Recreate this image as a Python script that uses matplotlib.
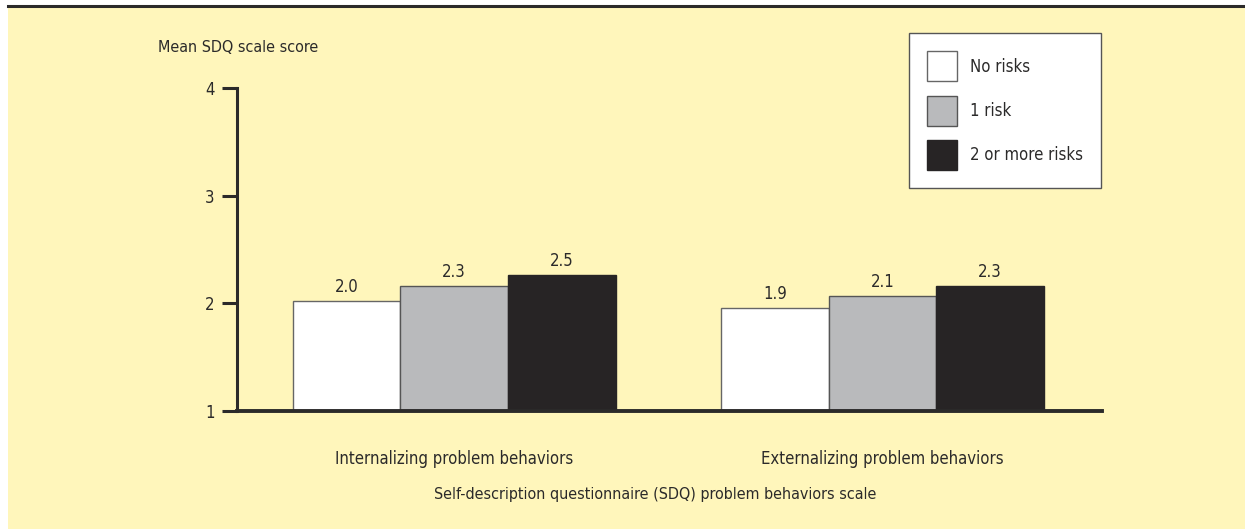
import matplotlib
matplotlib.use("Agg")
import matplotlib.pyplot as plt
from matplotlib.patches import Patch, Rectangle
from matplotlib.lines import Line2D
import numpy as np

categories = ["Internalizing problem behaviors", "Externalizing problem behaviors"]
series_names = ["No risks", "1 risk", "2 or more risks"]
no_risks = [2.02, 1.96]
one_risk = [2.16, 2.065]
two_plus = [2.26, 2.16]
label_no_risks = ["2.0", "1.9"]
label_one_risk = ["2.3", "2.1"]
label_two_plus = ["2.5", "2.3"]
yticks = [1, 2, 3, 4]
ylabel = "Mean SDQ scale score"
xlabel = "Self-description questionnaire (SDQ) problem behaviors scale"

BG = "#FFF6BB"
TXT = "#2b2a2a"
colors = ["#FFFFFF", "#B9BABC", "#272425"]
edges = ["#666666", "#555555", "#272425"]
FS = 12

FONT = dict(family="DejaVu Sans", stretch="condensed")
plt.rcParams["font.family"] = "DejaVu Sans"
plt.rcParams["font.stretch"] = "condensed"

W, H = 1245, 529
fig = plt.figure(figsize=(W / 100, H / 100), dpi=100)
fig.patch.set_facecolor("white")

# yellow panel and top rule
fig.add_artist(Rectangle((8 / W, 0), 1 - 8 / W, 1 - 7 / H, transform=fig.transFigure,
                         facecolor=BG, edgecolor="none", zorder=0))
fig.add_artist(Line2D([8 / W, 1], [1 - 5.5 / H, 1 - 5.5 / H], transform=fig.transFigure,
                      color="#2b2a2a", lw=2.2, zorder=1))

ax = fig.add_axes([237 / W, 1 - 411 / H, (1102 - 237) / W, (411 - 88) / H])
ax.set_facecolor("none")

x = np.arange(len(categories))
bw = 0.251
series = [no_risks, one_risk, two_plus]
labels = [label_no_risks, label_one_risk, label_two_plus]
for i, (vals, labs) in enumerate(zip(series, labels)):
    pos = x + (i - 1) * bw
    ax.bar(pos, np.array(vals) - 1, bottom=1, width=bw, color=colors[i],
           edgecolor=edges[i], linewidth=1.0, label=series_names[i], zorder=2)
    for p, v, t in zip(pos, vals, labs):
        ax.annotate(t, (p, v), xytext=(0, 3.5), textcoords="offset points",
                    ha="center", va="bottom", fontsize=FS, color=TXT, **FONT)

ax.set_xlim(-0.507, 1.512)
ax.set_ylim(1, 4)
ax.set_yticks(yticks)
ax.set_yticklabels([str(t) for t in yticks], fontsize=FS, color=TXT, **FONT)
ax.tick_params(axis="y", length=11, width=2.2, color="#2b2a2a", pad=5, direction="out")
ax.set_xticks([])
for s in ["top", "right"]:
    ax.spines[s].set_visible(False)
ax.spines["left"].set_linewidth(2.2)
ax.spines["bottom"].set_linewidth(2.8)
ax.spines["left"].set_color("#2b2a2a")
ax.spines["bottom"].set_color("#2b2a2a")
ax.spines["left"].set_zorder(3)
ax.spines["bottom"].set_zorder(3)

for xi, c in zip(x, categories):
    ax.text(xi, -(459 - 411) / (411 - 88), c, transform=ax.get_xaxis_transform(),
            ha="center", va="center", fontsize=FS, color=TXT, **FONT)

fig.text(655 / W, 1 - 495 / H, xlabel, ha="center", va="center", fontsize=11.5, color=TXT, **FONT)
fig.text(158 / W, 1 - 47 / H, ylabel, ha="left", va="center", fontsize=11.5, color=TXT, **FONT)

handles = [Patch(facecolor=colors[i], edgecolor=edges[i], linewidth=1.0) for i in range(3)]
leg = fig.legend(handles, series_names, loc="upper right",
                 bbox_to_anchor=(1101 / W, 1 - 33 / H), bbox_transform=fig.transFigure,
                 prop=dict(family="DejaVu Sans", stretch="condensed", size=FS),
                 frameon=True, fancybox=False, framealpha=1.0,
                 handlelength=1.8, handleheight=2.4,
                 labelspacing=0.85, handletextpad=0.75, borderpad=1.1, borderaxespad=0)
leg.get_frame().set_edgecolor("#555555")
leg.get_frame().set_linewidth(1.0)
leg.get_frame().set_facecolor("white")
for t in leg.get_texts():
    t.set_color(TXT)

fig.savefig("out.png", dpi=100, facecolor=fig.get_facecolor())
